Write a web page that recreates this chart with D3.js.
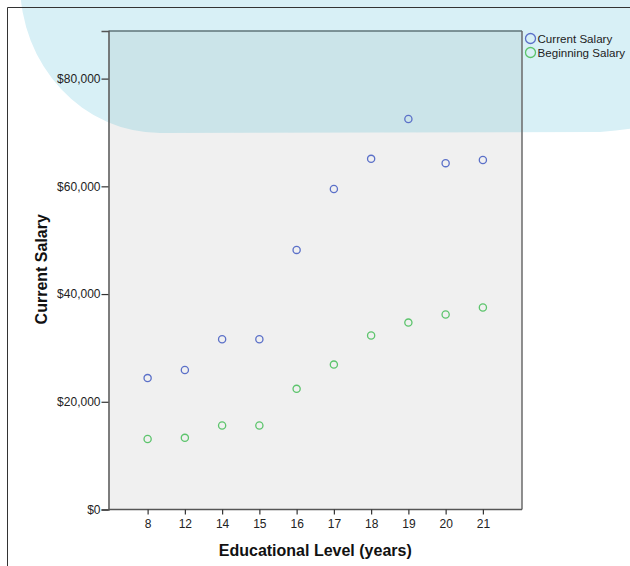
<!DOCTYPE html>
<html><head><meta charset="utf-8">
<script src="https://cdn.jsdelivr.net/npm/d3@7"></script>
<style>body{margin:0;background:#fff}svg{display:block;font-family:"Liberation Sans",Arial,sans-serif}</style>
</head><body><svg id="c" width="630" height="566"></svg>
<script>
const categories = ["8","12","14","15","16","17","18","19","20","21"];
const currentSalary = [24400, 25900, 31600, 31600, 48200, 59500, 65100, 72500, 64300, 64900];
const beginningSalary = [13100, 13300, 15600, 15600, 22400, 26900, 32300, 34700, 36200, 37500];
const yTicks = [0, 20000, 40000, 60000, 80000];
const seriesNames = ["Current Salary", "Beginning Salary"];
const seriesColors = ["#5b70c8", "#5cc46c"];

const svg = d3.select("#c");
const L = 108.5, R = 522, T = 31, B = 509.5;
const x = d3.scalePoint().domain(categories).range([L, R]).padding(1.05);
const y = d3.scaleLinear().domain([0, 88840]).range([B, T]);
const FF = "Liberation Sans, Arial, sans-serif";

// decorative blob
const blobPath = "M-10,-40 H680 V120 Q660,126 600,132 L160,133 A140,150 0 0 1 20,-17 Z";
svg.append("path").attr("d", blobPath).attr("fill", "#d8f0f6");
// outer frame
svg.append("path").attr("d", "M7.5,566 V7.5 H630").attr("fill", "none").attr("stroke", "#333").attr("stroke-width", 1);

// plot background
svg.append("rect").attr("x", L).attr("y", T).attr("width", R - L).attr("height", B - T).attr("fill", "#f0f0f0");
svg.append("clipPath").attr("id", "pc").append("rect").attr("x", L).attr("y", T).attr("width", R - L).attr("height", B - T);
svg.append("path").attr("d", blobPath).attr("fill", "#cbe4e9").attr("clip-path", "url(#pc)");

// plot frame
svg.append("line").attr("x1", L).attr("x2", R).attr("y1", T).attr("y2", T).attr("stroke", "#5f7478").attr("stroke-width", 1.5);
svg.append("line").attr("x1", R).attr("x2", R).attr("y1", T).attr("y2", B).attr("stroke", "#6a6a6a").attr("stroke-width", 1.5);

// axes
const yAxis = d3.axisLeft(y).tickValues(yTicks).tickSize(7).tickPadding(1)
  .tickFormat(d => "$" + d3.format(",")(d));
const gy = svg.append("g").attr("transform", `translate(${L},0)`).call(yAxis)
  .attr("font-size", 12).attr("font-family", FF);
gy.select(".domain").attr("stroke", "#555").attr("stroke-width", 1.5);
gy.selectAll(".tick line").attr("stroke", "#333").attr("stroke-width", 1.2);
gy.selectAll(".tick text").attr("fill", "#222");

const xAxis = d3.axisBottom(x).tickSize(5).tickPadding(5).tickSizeOuter(0);
const gx = svg.append("g").attr("transform", `translate(0,${B})`).call(xAxis)
  .attr("font-size", 12).attr("font-family", FF);
gx.select(".domain").attr("stroke", "#555").attr("stroke-width", 1.5).attr("d", `M${L},0H${R}`);
gx.selectAll(".tick line").attr("stroke", "#333").attr("stroke-width", 1.2);
gx.selectAll(".tick text").attr("fill", "#222");

// points
[currentSalary, beginningSalary].forEach((arr, si) => {
  svg.append("g").selectAll("circle").data(arr).join("circle")
    .attr("cx", (d, i) => x(categories[i]))
    .attr("cy", d => y(d))
    .attr("r", 3.6)
    .attr("fill", "none")
    .attr("stroke", seriesColors[si])
    .attr("stroke-width", 1.3);
});

// titles
svg.append("text").attr("x", (L + R) / 2).attr("y", 556).attr("text-anchor", "middle")
  .attr("font-size", 16).attr("font-weight", "bold").attr("fill", "#111").text("Educational Level (years)");
svg.append("text").attr("transform", `translate(47,${(T + B) / 2 - 1}) rotate(-90)`).attr("text-anchor", "middle")
  .attr("font-size", 16).attr("font-weight", "bold").attr("fill", "#111").text("Current Salary");

// legend
const lg = svg.append("g");
seriesNames.forEach((n, i) => {
  lg.append("circle").attr("cx", 530.5).attr("cy", 38.5 + i * 14).attr("r", 5)
    .attr("fill", "none").attr("stroke", seriesColors[i]).attr("stroke-width", 1.3);
  lg.append("text").attr("x", 537.5).attr("y", 42.5 + i * 14).attr("font-size", 11.6).attr("fill", "#222").text(n);
});
</script></body></html>
